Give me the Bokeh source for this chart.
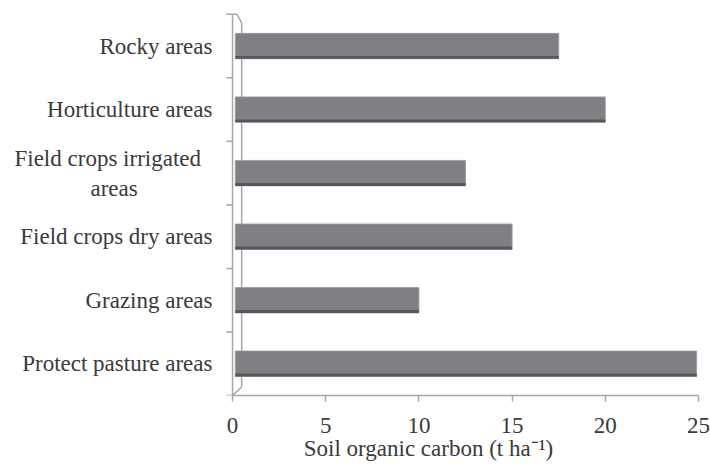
from bokeh.plotting import figure
from bokeh.models import Range1d, FixedTicker
from bokeh.transform import dodge
from bokeh.embed import file_html
from bokeh.resources import INLINE

# categories listed bottom -> top
categories = [
    "Protect pasture areas",
    "Grazing areas",
    "Field crops dry areas",
    "Field crops irrigated\u00a0\u00a0\nareas" + "\u00a0" * 13,
    "Horticulture areas",
    "Rocky areas",
]
soc_values = [24.9, 10.0, 15.0, 12.5, 20.0, 17.5]
x_ticks = [0, 5, 10, 15, 20, 25]
x_label = "Soil organic carbon (t ha\u207b\u00b9)" + "\u00a0" * 12

n = len(categories)
y_pos = [i + 0.5 for i in range(n)]
bounds_y = list(range(n + 1))

FONT = "Liberation Serif"
TXT = "#3a3a3a"
AX = "#a6a6a6"

p = figure(width=710, height=467, x_range=Range1d(-0.43, 25.16), y_range=Range1d(0, n + 0.06),
           output_backend="svg", toolbar_location=None,
           min_border_left=224, min_border_right=9, min_border_top=10, min_border_bottom=72)
p.outline_line_color = None
p.xgrid.visible = False
p.ygrid.visible = False
p.background_fill_color = "white"
p.border_fill_color = "white"

# x axis
xa = p.xaxis[0]
xa.ticker = FixedTicker(ticks=x_ticks)
xa.bounds = (0, x_ticks[-1])
xa.axis_line_color = AX
xa.axis_line_width = 1.5
xa.major_tick_line_color = AX
xa.major_tick_line_width = 1.5
xa.major_tick_out = 6
xa.major_tick_in = 0
xa.minor_tick_line_color = None
xa.major_label_text_font = FONT
xa.major_label_text_font_size = "23px"
xa.major_label_text_color = TXT
xa.major_label_standoff = 16
xa.axis_label = x_label
xa.axis_label_text_font = FONT
xa.axis_label_text_font_size = "23px"
xa.axis_label_text_font_style = "normal"
xa.axis_label_text_color = TXT
xa.axis_label_standoff = 0

# y axis (labels only)
ya = p.yaxis[0]
ya.ticker = FixedTicker(ticks=y_pos)
ya.major_label_overrides = {y: c for y, c in zip(y_pos, categories)}
ya.axis_line_color = None
ya.major_tick_line_color = None
ya.major_tick_out = 0
ya.major_tick_in = 0
ya.minor_tick_line_color = None
ya.major_label_text_font = FONT
ya.major_label_text_font_size = "23px"
ya.major_label_text_color = TXT
ya.major_label_standoff = 12

# 3D wall (front edge, back edge, depth diagonals, category boundary ticks)
depth_x = 0.49
depth_y = 0.135
p.segment(x0=[-0.33] * len(bounds_y), y0=bounds_y, x1=[0] * len(bounds_y), y1=bounds_y,
          line_color=AX, line_width=1.5)
p.segment(x0=[0, depth_x, 0, 0.24, 0], y0=[0, depth_y, n, n, 0],
          x1=[0, depth_x, 0.24, depth_x, depth_x], y1=[n, n - depth_y, n, n - depth_y, depth_y],
          line_color=AX, line_width=1.5)

# bars: front face + darker lower edge
src = dict(y=y_pos, v=soc_values)
p.hbar(y="y", left=0.15, right="v", height=0.4, source=src,
       fill_color="#7f8084", line_color="#9a9b9e", line_width=0.8)
p.hbar(y=dodge("y", -0.178, range=p.y_range), left=0.15, right="v", height=0.045, source=src,
       fill_color="#56575b", line_color=None)

open("out.html", "w").write(file_html(p, INLINE))
